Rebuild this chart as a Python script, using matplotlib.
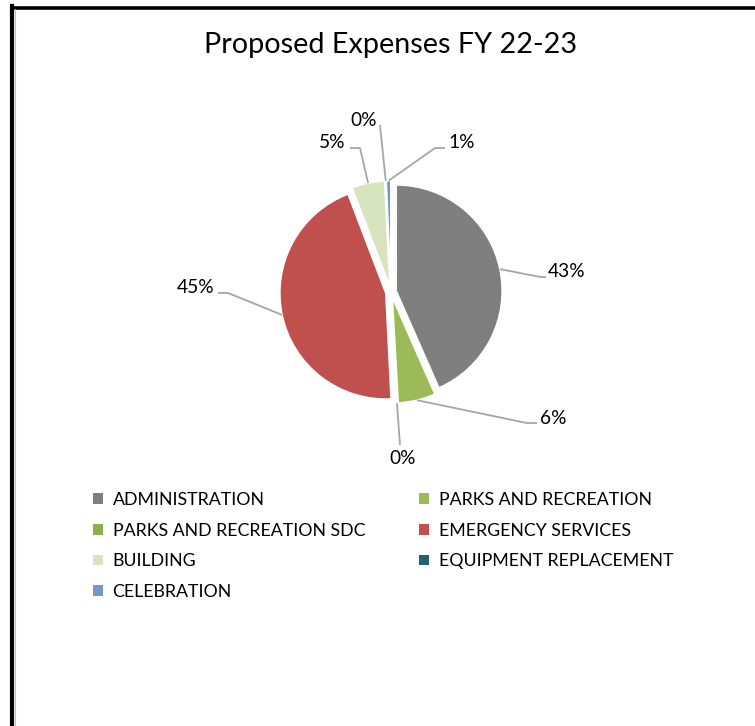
import numpy as np
import matplotlib
matplotlib.use("Agg")
import matplotlib.pyplot as plt
from matplotlib.lines import Line2D
from matplotlib.patches import Patch

plt.rcParams['font.family'] = ['Lato', 'DejaVu Sans']

# ---- data -------------------------------------------------------------
categories = [
    "ADMINISTRATION",
    "PARKS AND RECREATION",
    "PARKS AND RECREATION SDC",
    "EMERGENCY SERVICES",
    "BUILDING",
    "EQUIPMENT REPLACEMENT",
    "CELEBRATION",
]
shares = [43.4, 5.7, 0.1, 45.0, 5.0, 0.1, 0.7]
colors = ["#7F7F7F", "#9BBB59", "#8CB04C", "#C0504D", "#D7E4BD", "#23616F", "#7399C6"]

# label layout (pie radius units): text anchor, leader elbow, stub end
label_text_xy = [(1.48, 0.19), (1.41, -1.19), (0.113, -1.57), (-1.67, 0.04),
                 (-0.43, 1.41), (-0.255, 1.62), (0.54, 1.41)]
label_elbow = [(1.406, 0.142), (1.283, -1.236), None, (-1.538, -0.009),
               (-0.292, 1.358), None, (0.415, 1.358)]
label_end = [(1.462, 0.142), (1.377, -1.236), (0.085, -1.443), (-1.632, -0.009),
             (-0.387, 1.358), (-0.104, 1.575), (0.509, 1.358)]
label_ha = ["left", "left", "center", "right", "right", "center", "left"]

W, H = 755, 726
fig = plt.figure(figsize=(W / 100, H / 100), dpi=100)
fig.patch.set_facecolor("white")

# pie axes: 1 unit = 106 px, centred at (391, 292) px from top-left
R_PX = 106
cx, cy = 391, 292
half = 2.0
side = 2 * half * R_PX
ax = fig.add_axes([(cx - side / 2) / W, (H - cy - side / 2) / H, side / W, side / H])

explode = 0.05
wedges, _ = ax.pie(shares, colors=colors, startangle=90, counterclock=False,
                   explode=[explode] * len(shares), radius=1.0,
                   wedgeprops=dict(edgecolor="white", linewidth=1.2))
ax.set_xlim(-half, half)
ax.set_ylim(-half, half)
ax.set_aspect("equal")
ax.axis("off")

total = float(sum(shares))
for w, val, txy, elb, end, ha in zip(wedges, shares, label_text_xy, label_elbow,
                                     label_end, label_ha):
    mid = np.deg2rad((w.theta1 + w.theta2) / 2)
    wx, wy = w.center
    rim = (wx + np.cos(mid), wy + np.sin(mid))
    pts = [rim] + ([elb] if elb is not None else []) + [end]
    xs, ys = zip(*pts)
    ax.plot(xs, ys, color="#A6A6A6", linewidth=1.3, solid_capstyle="butt")
    ax.text(txy[0], txy[1], f"{round(val / total * 100):.0f}%", ha=ha, va="center",
            fontsize=13.8, color="#000000")

fig.text(391 / W, 1 - 45 / H, "Proposed Expenses FY 22-23", ha="center", va="center",
         fontsize=20.7, color="#000000")

# legend, filled row by row across two columns
order = [0, 2, 4, 6, 1, 3, 5]
handles = [Patch(facecolor=colors[i], edgecolor="none") for i in order]
labels = [categories[i] for i in order]
leg = fig.legend(handles, labels, ncol=2, loc="upper left",
                 bbox_to_anchor=(93 / W, 1 - 492 / H), frameon=False,
                 fontsize=12.8, handlelength=0.55, handleheight=0.55,
                 handletextpad=0.55, labelspacing=0.82, columnspacing=3.05,
                 borderaxespad=0, borderpad=0)

# chart frame (left and top borders)
fig.add_artist(Line2D([12 / W, 12 / W], [0, 1 - 6 / H], transform=fig.transFigure,
                      color="black", linewidth=3.0, solid_capstyle="projecting"))
fig.add_artist(Line2D([12 / W, 1], [1 - 7.5 / H, 1 - 7.5 / H], transform=fig.transFigure,
                      color="black", linewidth=2.6))
fig.add_artist(Line2D([15 / W, 15 / W], [0, 1 - 9 / H], transform=fig.transFigure,
                      color="#BFBFBF", linewidth=0.8))

fig.savefig("out.png", dpi=100, facecolor="white")
